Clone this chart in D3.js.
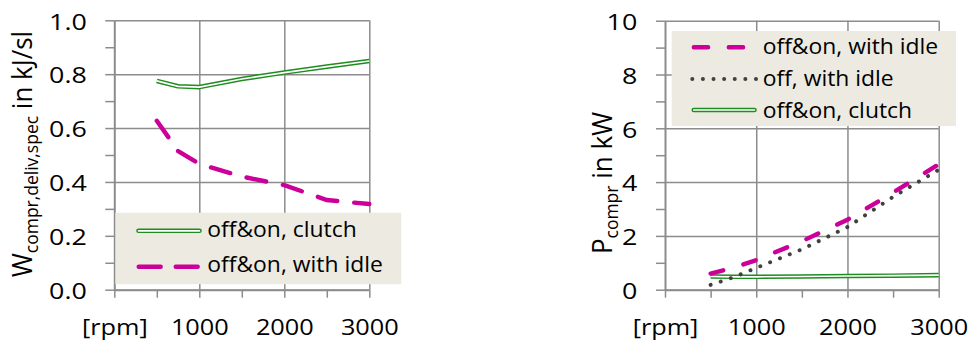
<!DOCTYPE html>
<html><head><meta charset="utf-8">
<script src="https://cdn.jsdelivr.net/npm/d3@7"></script>
<style>
body{margin:0;background:#fff}
svg{display:block}
text{font-family:'Open Sans',sans-serif;fill:#000}
</style>
</head><body>
<svg id="c" width="969" height="343"></svg>
<script>
// ---- data ----
const rpm = [500, 750, 1000, 1500, 2000, 2500, 3000];
const wClutch = [0.775, 0.755, 0.752, 0.782, 0.806, 0.828, 0.849];
const wIdle = [0.627, 0.515, 0.467, 0.420, 0.388, 0.333, 0.318];
const pIdle = [0.60, 0.82, 1.10, 1.80, 2.60, 3.61, 4.66];
const pOffIdle = [0.18, 0.46, 0.81, 1.50, 2.33, 3.45, 4.46];
const pClutch = [0.49, 0.48, 0.48, 0.49, 0.51, 0.52, 0.54];
const xTicks = [0, 1000, 2000, 3000];
const xTickLabels = ["[rpm]", "1000", "2000", "3000"];
const xMinorTicks = [0, 500, 1000, 1500, 2000, 2500, 3000];
const wTicks = [0, 0.2, 0.4, 0.6, 0.8, 1.0];
const wMinorTicks = [0, 0.1, 0.2, 0.3, 0.4, 0.5, 0.6, 0.7, 0.8, 0.9, 1.0];
const pTicks = [0, 2, 4, 6, 8, 10];
const pMinorTicks = [0, 1, 2, 3, 4, 5, 6, 7, 8, 9, 10];
const leftLegend = ["off&on, clutch", "off&on, with idle"];
const rightLegend = ["off&on, with idle", "off, with idle", "off&on, clutch"];

// ---- style ----
const SX = 1.15, YSX = 1.22, LSX = 1.04, TSX = 1.02, FS = 22, TFS = 26, SUB = 17.5;
const GRID = "#8c8c8c", GREEN = "#1e8c1e", MAG = "#cc0099", DOT = "#404040", LEGBG = "#eceae1";

const svg = d3.select("#c");

function stretchText(g, x, y, str, anchor) {
  return g.append("text").attr("transform", `translate(${x},${y}) scale(${LSX},1)`)
    .attr("text-anchor", anchor || "start").attr("font-size", FS).text(str);
}

function panel(cfg) {
  const g = svg.append("g");
  const x = d3.scaleLinear().domain([0, 3000]).range([cfg.x0, cfg.x1]);
  const y = d3.scaleLinear().domain(cfg.yDomain).range([cfg.yBot, cfg.yTop]);

  // grid
  g.append("g").attr("transform", `translate(${cfg.x0},0)`)
    .call(d3.axisLeft(y).tickValues(cfg.major).tickSize(-(cfg.x1 - cfg.x0)).tickFormat(""))
    .call(s => { s.select(".domain").remove(); s.selectAll("line").attr("stroke", GRID).attr("stroke-width", 1.5); });
  g.append("g").attr("transform", `translate(0,${cfg.yBot})`)
    .call(d3.axisBottom(x).tickValues([1000, 2000, 3000]).tickSize(-(cfg.yBot - cfg.yTop)).tickFormat(""))
    .call(s => { s.select(".domain").remove(); s.selectAll("line").attr("stroke", GRID).attr("stroke-width", 1.5); });

  // y axis
  const ya = g.append("g").attr("transform", `translate(${cfg.x0},0)`)
    .call(d3.axisLeft(y).tickValues(cfg.minor).tickSize(9).tickSizeOuter(0).tickFormat(""));
  ya.select(".domain").attr("stroke", GRID).attr("stroke-width", 2);
  ya.selectAll("line").attr("stroke", GRID).attr("stroke-width", 1.5);
  const yl = g.append("g").attr("transform", `translate(${cfg.x0},0)`)
    .call(d3.axisLeft(y).tickValues(cfg.major).tickSize(0).tickFormat(cfg.fmt));
  yl.select(".domain").remove();
  yl.selectAll("text").attr("x", null).attr("dy", "0.4em").attr("font-size", FS)
    .attr("font-family", "'Open Sans',sans-serif")
    .attr("transform", `translate(${-cfg.labGap},0) scale(${YSX},1)`);

  // x axis
  const xa = g.append("g").attr("transform", `translate(0,${cfg.yBot})`)
    .call(d3.axisBottom(x).tickValues(xMinorTicks).tickSize(8).tickSizeOuter(0).tickFormat(""));
  xa.select(".domain").attr("stroke", GRID).attr("stroke-width", 2);
  xa.selectAll("line").attr("stroke", GRID).attr("stroke-width", 1.5);
  const xl = g.append("g").attr("transform", `translate(0,${cfg.yBot})`)
    .call(d3.axisBottom(x).tickValues(xTicks).tickSize(0).tickFormat((d, i) => xTickLabels[i]));
  xl.select(".domain").remove();
  xl.selectAll("text").attr("y", null).attr("dy", null).attr("font-size", FS)
    .attr("font-family", "'Open Sans',sans-serif")
    .attr("transform", `translate(0,45.5) scale(${SX},1)`);

  // y title
  const t = g.append("text").attr("text-anchor", "middle").attr("font-size", TFS)
    .attr("transform", `translate(${cfg.titleX},${cfg.titleY}) rotate(-90) scale(1,${TSX})`);
  t.append("tspan").text(cfg.title[0]);
  t.append("tspan").attr("font-size", SUB).attr("dy", 6).text(cfg.title[1]);
  t.append("tspan").attr("dy", -6).text(cfg.title[2]);

  return {g, x, y};
}

function drawSeries(p, vals, kind, dash) {
  const line = d3.line().x((d, i) => p.x(rpm[i])).y(d => p.y(d));
  if (kind === "double") {
    p.g.append("path").attr("d", line(vals)).attr("fill", "none").attr("stroke", GREEN).attr("stroke-width", 4.6).attr("stroke-linejoin", "round");
    p.g.append("path").attr("d", line(vals)).attr("fill", "none").attr("stroke", "#fff").attr("stroke-width", 1.7).attr("stroke-linejoin", "round");
  } else if (kind === "dash") {
    p.g.append("path").attr("d", line(vals)).attr("fill", "none").attr("stroke", MAG).attr("stroke-width", 4.4)
      .attr("stroke-linecap", "round").attr("stroke-dasharray", dash);
  } else {
    p.g.append("path").attr("d", line(vals)).attr("fill", "none").attr("stroke", DOT).attr("stroke-width", 4)
      .attr("stroke-linecap", "round").attr("stroke-dasharray", "0.01,10.6");
  }
}

function legendSample(g, x0, x1, y, kind, dash) {
  const ln = d3.line();
  const d = ln([[x0, y], [x1, y]]);
  if (kind === "double") {
    g.append("path").attr("d", d).attr("stroke", GREEN).attr("stroke-width", 4.6).attr("stroke-linecap", "round");
    g.append("path").attr("d", d).attr("stroke", "#fff").attr("stroke-width", 1.7).attr("stroke-linecap", "round");
  } else if (kind === "dash") {
    g.append("path").attr("d", d).attr("stroke", MAG).attr("stroke-width", 4.4).attr("stroke-linecap", "round").attr("stroke-dasharray", dash);
  } else {
    g.append("path").attr("d", d).attr("stroke", DOT).attr("stroke-width", 4).attr("stroke-linecap", "round").attr("stroke-dasharray", "0.01,10.6");
  }
}

// ---- left panel ----
const L = panel({x0: 114.3, x1: 369.3, yTop: 20.3, yBot: 289.7, yDomain: [0, 1],
  major: wTicks, minor: wMinorTicks, fmt: d3.format(".1f"), labGap: 27.5,
  title: ["W", "compr,deliv,spec", " in kJ/sl"], titleX: 31.7, titleY: 154});
drawSeries(L, wClutch, "double");
drawSeries(L, wIdle, "dash", "20,17");
const lg = L.g.append("g");
lg.append("rect").attr("x", 115.3).attr("y", 212.7).attr("width", 286).attr("height", 71.5).attr("fill", LEGBG);
legendSample(lg, 138.5, 199.5, 230.8, "double");
legendSample(lg, 138.7, 199, 266.7, "dash", "22,15");
stretchText(lg, 207.3, 236.9, leftLegend[0]);
stretchText(lg, 207.3, 272, leftLegend[1]);

// ---- right panel ----
const R = panel({x0: 665, x1: 938.7, yTop: 20.7, yBot: 289.7, yDomain: [0, 10],
  major: pTicks, minor: pMinorTicks, fmt: d3.format("d"), labGap: 27.7,
  title: ["P", "compr", " in kW"], titleX: 611.7, titleY: 183});
drawSeries(R, pClutch, "double");
drawSeries(R, pOffIdle, "dot");
drawSeries(R, pIdle, "dash", "13,21");
const rg = R.g.append("g");
rg.append("rect").attr("x", 671.7).attr("y", 31).attr("width", 284.3).attr("height", 95).attr("fill", LEGBG);
legendSample(rg, 693.8, 755, 47.3, "dash", "14.3,20.7");
legendSample(rg, 692.3, 756, 79, "dot");
legendSample(rg, 693.8, 754.5, 110, "double");
stretchText(rg, 762.7, 54.2, rightLegend[0]);
stretchText(rg, 762.7, 86.2, rightLegend[1]);
stretchText(rg, 762.7, 117.5, rightLegend[2]);
</script>
</body></html>
